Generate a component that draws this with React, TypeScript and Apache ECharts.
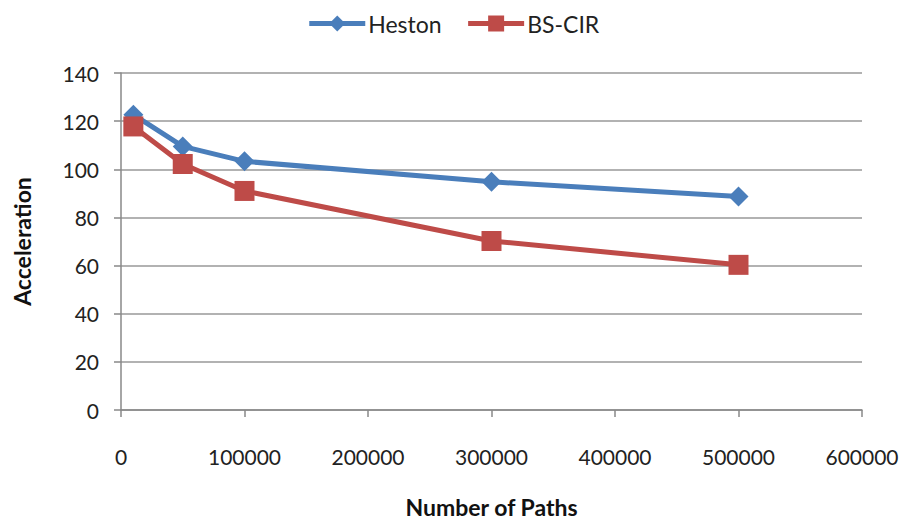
import React, { useEffect, useRef } from "react";
import * as echarts from "echarts";

const paths = [10000, 50000, 100000, 300000, 500000];
const heston = [122.7, 109.5, 103.3, 94.8, 88.7];
const bsCir = [117.8, 102.2, 91.0, 70.2, 60.3];
const FONT = "Lato, 'Open Sans', sans-serif";

export default function App() {
  const ref = useRef<HTMLDivElement>(null);
  useEffect(() => {
    const chart = echarts.init(ref.current!, null, { renderer: "svg" });
    chart.setOption({
      animation: false,
      backgroundColor: "#fff",
      textStyle: { fontFamily: FONT },
      legend: {
        top: 7,
        left: "center",
        itemWidth: 56,
        itemHeight: 20,
        itemGap: 24,
        lineStyle: { width: 5 },
        textStyle: { fontSize: 23, color: "#222", fontFamily: FONT, padding: [0, 0, 0, -2] },
        data: ["Heston", "BS-CIR"],
      },
      grid: { left: 121, right: 44, top: 73, bottom: 109 },
      xAxis: {
        type: "value",
        min: 0,
        max: 600000,
        interval: 100000,
        name: "Number of Paths",
        nameLocation: "middle",
        nameGap: 85,
        nameTextStyle: { fontSize: 23, fontWeight: "bold", color: "#111", fontFamily: FONT },
        axisLine: { show: true, lineStyle: { color: "#888", width: 1.5 } },
        axisTick: { show: true, length: 7, lineStyle: { color: "#888", width: 1.5 } },
        axisLabel: { fontSize: 21, color: "#222", margin: 36, fontFamily: FONT, formatter: (v: number) => String(v) },
        splitLine: { show: false },
      },
      yAxis: {
        type: "value",
        min: 0,
        max: 140,
        interval: 20,
        name: "Acceleration",
        nameLocation: "middle",
        nameGap: 88,
        nameTextStyle: { fontSize: 23, fontWeight: "bold", color: "#111", fontFamily: FONT },
        axisLine: { show: true, lineStyle: { color: "#888", width: 1.5 } },
        axisTick: { show: true, length: 7, lineStyle: { color: "#888", width: 1.5 } },
        axisLabel: { fontSize: 21, color: "#222", margin: 22, fontFamily: FONT },
        splitLine: { show: true, lineStyle: { color: "#999", width: 1.5 } },
      },
      series: [
        {
          name: "Heston",
          type: "line",
          data: paths.map((p, i) => [p, heston[i]]),
          symbol: "diamond",
          symbolSize: 20,
          itemStyle: { color: "#4a7ebb" },
          lineStyle: { color: "#4a7ebb", width: 5 },
          z: 3,
        },
        {
          name: "BS-CIR",
          type: "line",
          data: paths.map((p, i) => [p, bsCir[i]]),
          symbol: "rect",
          symbolSize: 20,
          itemStyle: { color: "#be4b48" },
          lineStyle: { color: "#be4b48", width: 5 },
          z: 4,
        },
      ],
    });
    return () => chart.dispose();
  }, []);
  return <div ref={ref} style={{ width: 906, height: 523, position: "absolute", left: 0, top: 0 }} />;
}
